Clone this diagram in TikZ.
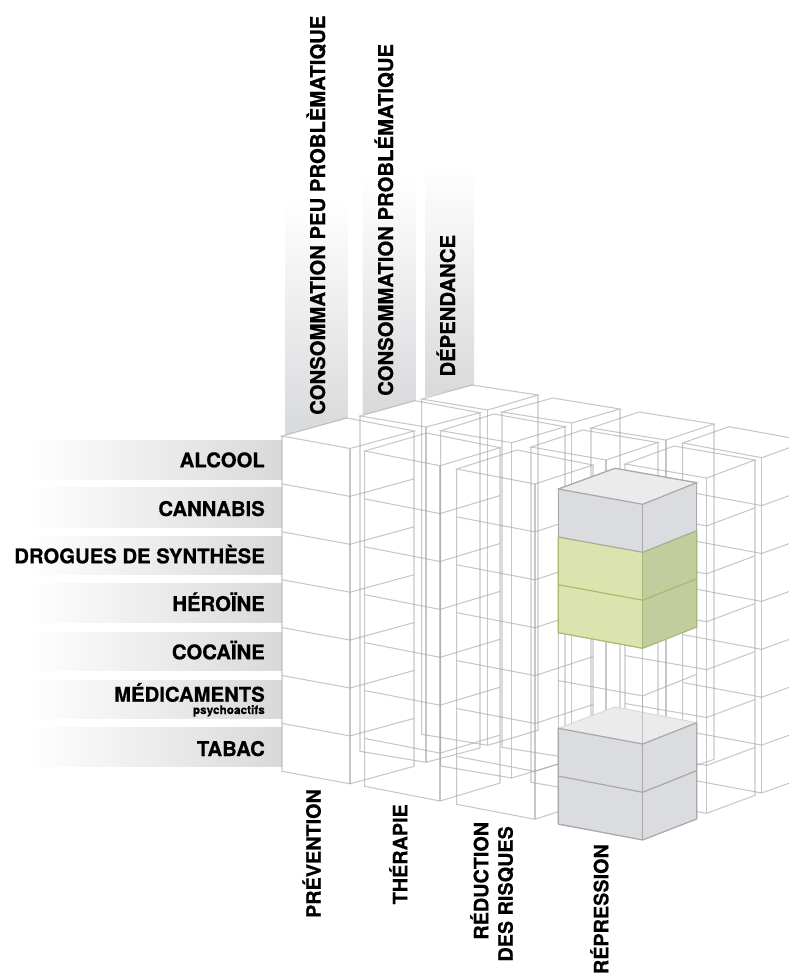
\documentclass[tikz,border=0pt]{standalone}
\usepackage{fontspec}
\setmainfont{TeX Gyre Heros}[BoldFeatures={FakeBold=0.5}]
\definecolor{barend}{HTML}{D8D9DB}
\definecolor{wire}{HTML}{A4A4A4}
\definecolor{boxgrey}{HTML}{DBDCDF}
\definecolor{boxtop}{HTML}{EBEBEC}
\definecolor{boxline}{HTML}{A8A8AA}
\definecolor{greenl}{HTML}{DBE4AE}
\definecolor{greenr}{HTML}{C2CD9D}
\definecolor{greenline}{HTML}{A6BC68}
\tikzset{
  x=1pt,y=-1pt,
  wireline/.style={draw=wire,draw opacity=.62,line width=1.05pt,line join=miter},
  rowbar/.style={left color=white,right color=barend,draw=none},
  colbar/.style={top color=white,bottom color=barend,draw=none},
  rowlabel/.style={font=\fontsize{20.3}{24}\selectfont\bfseries,anchor=base east,inner sep=0pt},
  collabel/.style={font=\fontsize{20.3}{24}\selectfont\bfseries,rotate=90,anchor=base west,inner sep=0pt},
  sidelabel/.style={font=\fontsize{19.8}{24}\selectfont\bfseries,rotate=90,anchor=base east,inner sep=0pt},
  sublabel/.style={font=\fontsize{11.8}{13}\selectfont\bfseries,anchor=base east,inner sep=0pt},
  boxedge/.style={draw=boxline,line width=1.2pt,line join=round},
  greenedge/.style={draw=greenline,line width=1.2pt,line join=round},
}
% #1,#2 L  #3,#4 F  #5,#6 B  #7,#8 R  #9 number of inner level lines
\newcommand{\wirestack}[9]{%
  \path[wireline] (#1,#2)--(#3,#4)--(#7,#8)--(#5,#6)--cycle;
  \path[wireline] (#1,#2)--++(0,335.3)--(#3,#4+335.3)--(#7,#8+335.3)--++(0,-335.3);
  \path[wireline] (#3,#4)--++(0,335.3);
  \ifnum#9>0
    \foreach \k in {1,...,#9}{%
      \path[wireline] (#1,#2+\k*47.9)--(#3,#4+\k*47.9)--(#7,#8+\k*47.9);
    }%
  \fi
}
\begin{document}
\begin{tikzpicture}
\useasboundingbox (0,0) rectangle (789,974);
\clip (0,0) rectangle (789,974);
% row bars
\foreach \t/\b in {440/479,487.7/527,536/574.7,583.7/622.7,632/670.7,680/718.7,727.7/766.7}{
  \shade[rowbar] (28,\t) rectangle (282,\b);
}
% column bars
\shade[colbar] (285,200)--(348,200)--(348,418)--(285,435)--cycle;
\shade[colbar] (362.7,176)--(415.7,176)--(415.7,400.7)--(362.7,415)--cycle;
\shade[colbar] (425,165)--(474,165)--(474,385)--(425,397)--cycle;
% wire stacks, back to front
\wirestack{682.7}{443}{761.7}{457.7}{729}{426.7}{808}{441}{6}
\wirestack{591}{428}{666}{440}{639}{412}{714}{424}{0}
\wirestack{502}{412}{571.7}{423}{552.7}{398}{620}{409}{0}
\wirestack{421.7}{399}{487.7}{410}{472}{385}{538}{395}{0}
\wirestack{625}{464}{706.7}{478}{674}{446}{755}{460}{6}
\wirestack{531}{447}{606}{460}{582.7}{430}{658}{442.5}{0}
\wirestack{440.7}{430.7}{511.7}{442.7}{494}{414}{565}{426.7}{0}
\wirestack{360}{416}{426}{427}{415}{400.7}{480}{412.7}{0}
\wirestack{456.7}{469}{535}{484}{517}{450}{593}{465}{6}
\wirestack{364.7}{451}{440}{465.7}{426.7}{433}{500}{447.7}{6}
\wirestack{282}{436}{350}{448.5}{347}{418}{414}{431}{6}
\wirestack{558.3}{489}{642.7}{504.3}{615}{468.3}{696.7}{482.7}{6}
% upper grey block
\path[fill=boxgrey] (558.3,489)--(642.7,504.3)--(696.7,482.7)--(696.7,530.7)--(642.7,552.3)--(558.3,537)--cycle;
\path[fill=boxtop,boxedge] (558.3,489)--(615,468.3)--(696.7,482.7)--(642.7,504.3)--cycle;
\path[boxedge] (558.3,537)--(558.3,489) (642.7,504.3)--(642.7,552.3) (696.7,482.7)--(696.7,530.7);
% green blocks
\path[fill=greenl] (558.3,537)--(642.7,552.3)--(642.7,648.3)--(558.3,632.7)--cycle;
\path[fill=greenr] (642.7,552.3)--(696.7,530.7)--(696.7,627)--(642.7,648.3)--cycle;
\path[greenedge] (558.3,537)--(558.3,632.7)--(642.7,648.3)--(696.7,627)--(696.7,530.7);
\path[greenedge] (642.7,552.3)--(642.7,648.3);
\path[greenedge] (558.3,584.7)--(642.7,600.2)--(696.7,578.8);
\path[boxedge] (558.3,537)--(642.7,552.3)--(696.7,530.7);
% lower grey block
\path[fill=boxgrey] (558.3,728.3)--(642.7,744)--(696.7,722.7)--(696.7,819)--(642.7,840)--(558.3,824)--cycle;
\path[fill=boxtop] (558.3,728.3)--(615,707)--(696.7,722.7)--(642.7,744)--cycle;
\path[draw=boxline!45,line width=.9pt] (558.3,728.3)--(615,707)--(696.7,722.7);
\path[wireline] (642.7,696)--(642.7,744);
\path[boxedge] (696.7,722.7)--(642.7,744)--(558.3,728.3)--(558.3,824)--(642.7,840)--(696.7,819)--cycle;
\path[boxedge] (642.7,744)--(642.7,840);
\path[boxedge] (558.3,776)--(642.7,792.3)--(696.7,770.7);
% row labels
\node[rowlabel] (alcool) at (265,467.3) {ALCOOL};
\node[rowlabel] (cannabis) at (265,516) {CANNABIS};
\node[rowlabel] (synth) at (265,563.3) {DROGUES DE SYNTHÈSE};
\node[rowlabel] (heroine) at (265,611) {HÉROÏNE};
\node[rowlabel] (cocaine) at (265,659.3) {COCAÏNE};
\node[rowlabel] (medic) at (265,701.7) {MÉDICAMENTS};
\node[sublabel] (psycho) at (265,714) {psychoactifs};
\node[rowlabel] (tabac) at (265,756) {TABAC};
% column labels
\node[collabel] (c1) at (325,415) {CONSOMMATION PEU PROBLÈMATIQUE};
\node[collabel] (c2) at (393,396) {CONSOMMATION PROBLÉMATIQUE};
\node[collabel] (c3) at (455,376.7) {DÉPENDANCE};
% side labels
\node[sidelabel] (s1) at (320.7,789) {PRÉVENTION};
\node[sidelabel] (s2) at (407.3,804) {THÉRAPIE};
\node[sidelabel] (s3a) at (488.3,821.7) {RÉDUCTION};
\node[sidelabel] (s3b) at (512.7,826) {DES RISQUES};
\node[sidelabel] (s4) at (608.3,844) {RÉPRESSION};
\end{tikzpicture}
\end{document}
